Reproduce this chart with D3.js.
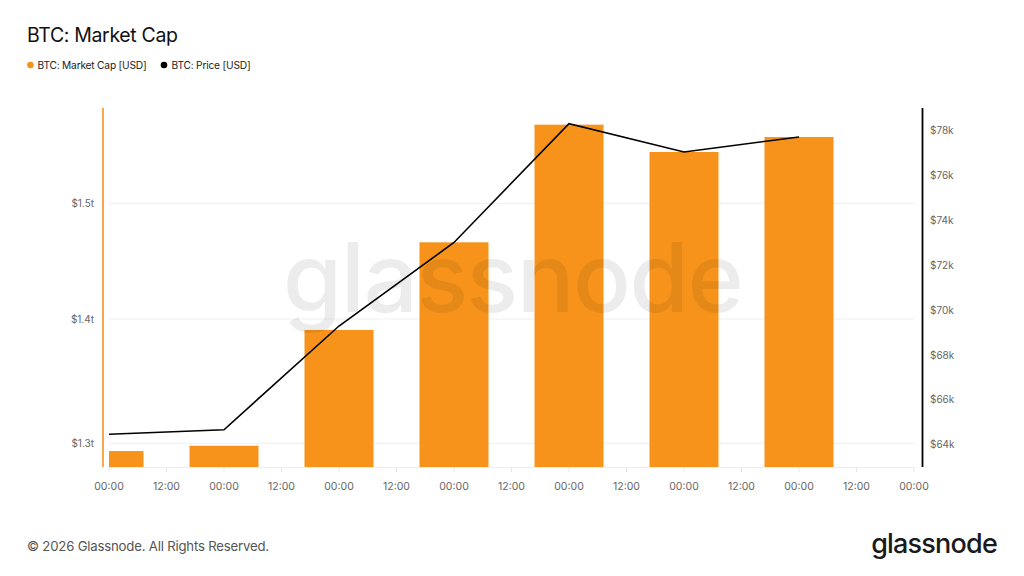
<!DOCTYPE html>
<html>
<head>
<meta charset="utf-8">
<script src="https://cdn.jsdelivr.net/npm/d3@7"></script>
<style>
  html, body { margin: 0; padding: 0; background: #fff; }
  svg { display: block; font-family: Inter, "Noto Sans", sans-serif; }
</style>
</head>
<body>
<svg id="chart" width="1024" height="576"></svg>
<script>
// ---- Data ----
const dayIndex = [0, 1, 2, 3, 4, 5, 6];
const marketCapT = [1.2940, 1.2981, 1.3909, 1.4655, 1.5720, 1.5466, 1.5605]; // trillions USD
const priceK = [64.45, 64.65, 69.28, 73.01, 78.31, 77.05, 77.72];            // thousands USD
const leftTicks = [1.3, 1.4, 1.5];
const leftTickLabels = ["$1.3t", "$1.4t", "$1.5t"];
const rightTicks = [64, 66, 68, 70, 72, 74, 76, 78];
const rightTickLabels = ["$64k", "$66k", "$68k", "$70k", "$72k", "$74k", "$76k", "$78k"];
const xTicks = [0, 0.5, 1, 1.5, 2, 2.5, 3, 3.5, 4, 4.5, 5, 5.5, 6, 6.5, 7];
const xTickLabels = ["00:00","12:00","00:00","12:00","00:00","12:00","00:00","12:00","00:00","12:00","00:00","12:00","00:00","12:00","00:00"];

// ---- Layout ----
const svg = d3.select("#chart");
const plot = { left: 109, right: 914, top: 108, bottom: 467 };
const orange = "#f7931a";

const x = d3.scaleLinear().domain([0, 7]).range([plot.left, plot.right]);
const yL = d3.scaleLog().domain([1.28176, 1.58770]).range([plot.bottom, plot.top]);
const yR = d3.scaleLinear().domain([62.987, 79.013]).range([plot.bottom, plot.top]);

// Title & legend
svg.append("text").attr("x", 27).attr("y", 42).attr("font-size", 19.5).attr("letter-spacing", -0.35).attr("fill", "#111")
  .text("BTC: Market Cap");
const legend = svg.append("g").attr("font-size", 10.2).attr("letter-spacing", -0.2).attr("fill", "#222");
legend.append("circle").attr("cx", 30.5).attr("cy", 65).attr("r", 3.3).attr("fill", orange);
legend.append("text").attr("x", 37.5).attr("y", 68.7).text("BTC: Market Cap [USD]");
legend.append("circle").attr("cx", 164).attr("cy", 65).attr("r", 3.3).attr("fill", "#000");
legend.append("text").attr("x", 171.5).attr("y", 68.7).text("BTC: Price [USD]");

// Gridlines
svg.append("g").selectAll("line").data(leftTicks).join("line")
  .attr("x1", plot.left).attr("x2", plot.right)
  .attr("y1", d => yL(d)).attr("y2", d => yL(d))
  .attr("stroke", "#efefef").attr("stroke-width", 1);

// Bars
const barHalf = 0.3;
svg.append("g").selectAll("rect").data(dayIndex).join("rect")
  .attr("x", (d) => Math.max(plot.left, x(d - barHalf)))
  .attr("width", (d) => Math.min(plot.right, x(d + barHalf)) - Math.max(plot.left, x(d - barHalf)))
  .attr("y", (d, i) => yL(marketCapT[i]))
  .attr("height", (d, i) => plot.bottom - yL(marketCapT[i]))
  .attr("fill", orange);

// Watermark
svg.append("text").attr("x", 512.5).attr("y", 312)
  .attr("text-anchor", "middle").attr("font-size", 96).attr("font-weight", 500)
  .attr("fill", "#000").attr("fill-opacity", 0.075).attr("letter-spacing", -1.5)
  .text("glassnode");

// Line
const line = d3.line().x((d) => x(d)).y((d, i) => yR(priceK[i]));
svg.append("path").datum(dayIndex).attr("d", line)
  .attr("fill", "none").attr("stroke", "#000").attr("stroke-width", 1.6).attr("stroke-linejoin", "miter");

// X axis baseline & ticks
svg.append("line").attr("x1", plot.left).attr("x2", plot.right).attr("y1", plot.bottom + 0.5).attr("y2", plot.bottom + 0.5)
  .attr("stroke", "#eeeeee");
const xg = svg.append("g");
xg.selectAll("line").data(xTicks).join("line")
  .attr("x1", d => x(d)).attr("x2", d => x(d)).attr("y1", plot.bottom).attr("y2", plot.bottom + 5)
  .attr("stroke", "#e6e6e6");
xg.selectAll("text").data(xTicks).join("text")
  .attr("x", d => x(d)).attr("y", 490).attr("text-anchor", "middle")
  .attr("font-size", 10.5).attr("fill", "#666").text((d, i) => xTickLabels[i]);

// Left axis
svg.append("line").attr("x1", 103).attr("x2", 103).attr("y1", plot.top).attr("y2", plot.bottom)
  .attr("stroke", orange).attr("stroke-width", 1.6);
svg.append("g").selectAll("text").data(leftTicks).join("text")
  .attr("x", 94).attr("y", d => yL(d) + 3.8).attr("text-anchor", "end")
  .attr("font-size", 10).attr("fill", "#666").text((d, i) => leftTickLabels[i]);

// Right axis
svg.append("line").attr("x1", 922.5).attr("x2", 922.5).attr("y1", plot.top).attr("y2", plot.bottom)
  .attr("stroke", "#000").attr("stroke-width", 1.8);
svg.append("g").selectAll("text").data(rightTicks).join("text")
  .attr("x", 930).attr("y", d => yR(d) + 3.8).attr("text-anchor", "start")
  .attr("font-size", 10).attr("fill", "#666").text((d, i) => rightTickLabels[i]);

// Footer
svg.append("text").attr("x", 27).attr("y", 551).attr("font-size", 13.2).attr("letter-spacing", -0.2).attr("fill", "#555")
  .text("© 2026 Glassnode. All Rights Reserved.");
svg.append("text").attr("x", 997).attr("y", 553).attr("text-anchor", "end")
  .attr("font-size", 27).attr("font-weight", 500).attr("fill", "#1a1a1a").attr("letter-spacing", -0.8)
  .text("glassnode");
</script>
</body>
</html>
